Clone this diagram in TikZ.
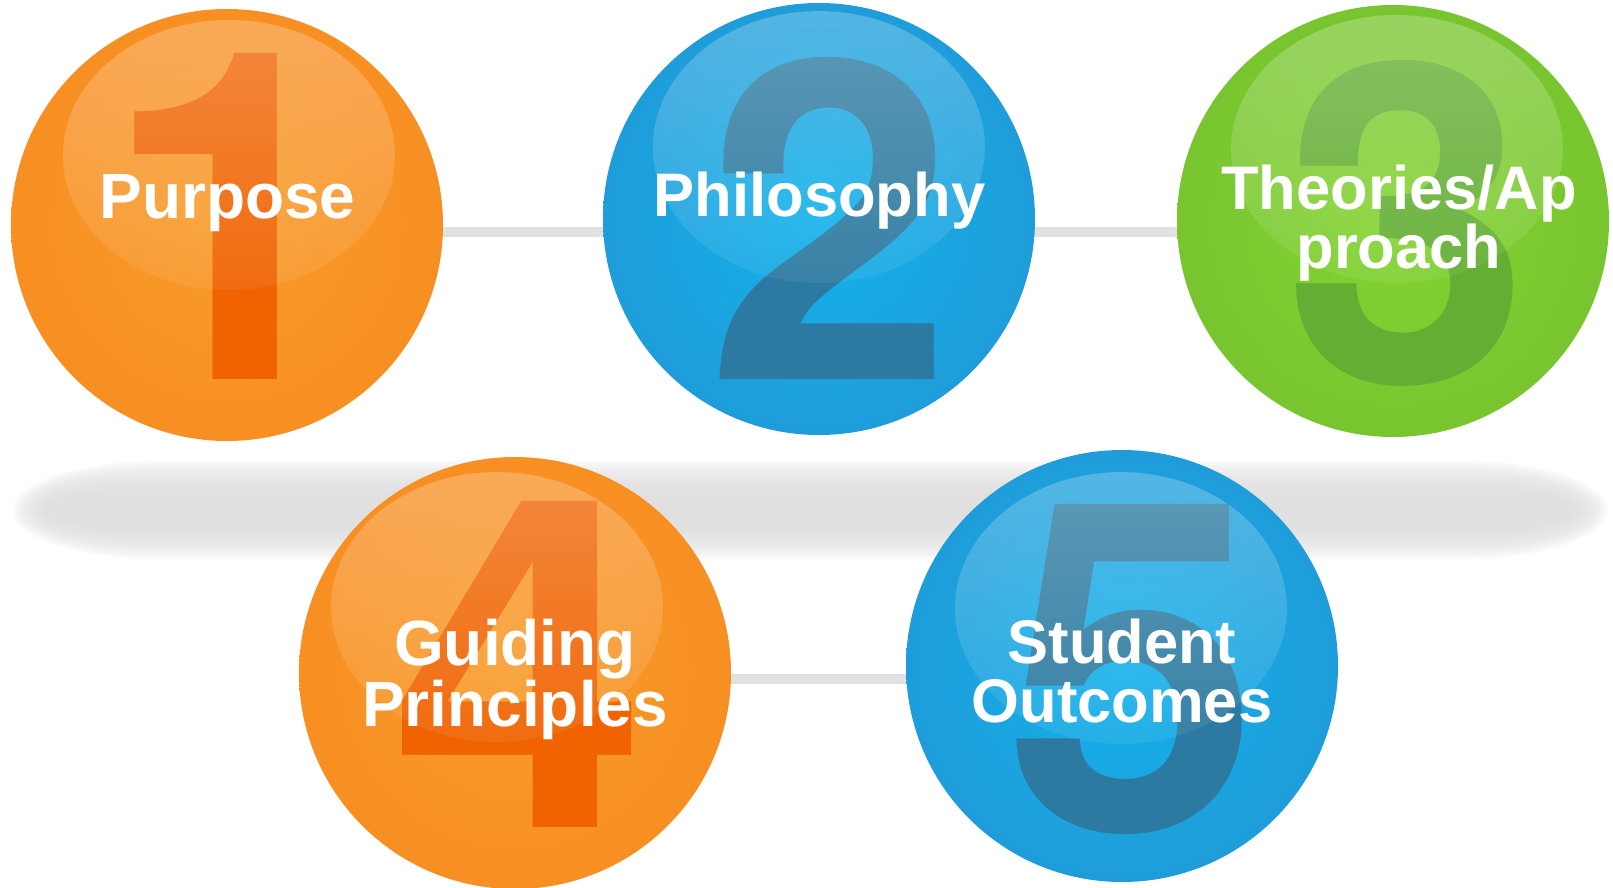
\documentclass[tikz,border=0pt]{standalone}
\usepackage{fontspec}
\setmainfont{Liberation Sans}
\newfontfamily\digitfont{TeX Gyre Heros}
\usetikzlibrary{fadings,backgrounds}
\definecolor{orgIn}{HTML}{F89C2C}
\definecolor{orgOut}{HTML}{F7831A}
\definecolor{bluIn}{HTML}{13B2EB}
\definecolor{bluOut}{HTML}{2690CF}
\definecolor{grnIn}{HTML}{84D433}
\definecolor{grnOut}{HTML}{6AB42A}
\definecolor{orgNum}{HTML}{F06300}
\definecolor{bluNum}{HTML}{2C7AA1}
\definecolor{grnNum}{HTML}{63AF33}
\definecolor{lineGray}{HTML}{E1E1E1}
\definecolor{shadowGray}{HTML}{DCDCDC}
\pgfdeclareradialshading{orangeball}{\pgfpoint{0bp}{0bp}}{color(0bp)=(orgIn); color(24bp)=(orgIn!50!orgOut); color(40bp)=(orgOut); color(50bp)=(orgOut)}
\pgfdeclareradialshading{blueball}{\pgfpoint{0bp}{0bp}}{color(0bp)=(bluIn); color(22bp)=(bluIn!45!bluOut); color(40bp)=(bluOut); color(50bp)=(bluOut)}
\pgfdeclareradialshading{greenball}{\pgfpoint{0bp}{0bp}}{color(0bp)=(grnIn); color(24bp)=(grnIn!55!grnOut); color(40bp)=(grnOut); color(50bp)=(grnOut)}
\tikzfading[name=glossfade, top color=transparent!76, bottom color=transparent!94]
\tikzset{
  ball/.style={circle, minimum size=432pt, inner sep=0pt, draw=none, shade},
  numtxt/.style={inner sep=0pt, anchor=base, font=\fontsize{460}{460}\selectfont\digitfont\bfseries},
  lbl/.style={inner sep=0pt, anchor=base, text=white, align=center},
  connector/.style={draw=lineGray, line width=10pt},
  gloss/.style={fill=white, path fading=glossfade},
}
\begin{document}
\begin{tikzpicture}[x=1pt, y=-1pt]
\useasboundingbox (0,0) rectangle (1613,888);
\coordinate (ln1) at (0,232);
\coordinate (ln2) at (0,679);
% circles
\node[ball, shading=orangeball] (c1) at (227,225) {};
\node[ball, shading=blueball]   (c2) at (819,219) {};
\node[ball, shading=greenball]  (c3) at (1393,221) {};
\node[ball, shading=orangeball] (c4) at (515,673) {};
\node[ball, shading=blueball]   (c5) at (1122,666) {};
% big digits
\node[numtxt, text=orgNum] (n1) at (231,379) {1};
\node[numtxt, text=bluNum, font=\fontsize{445}{445}\selectfont\digitfont\bfseries] (n2) at (830,379) {2};
\node[numtxt, text=grnNum, font=\fontsize{445}{445}\selectfont\digitfont\bfseries] (n3) at (1407,382) {3};
\node[numtxt, text=orgNum] (n4) at (519,827) {4};
\node[numtxt, text=bluNum] (n5) at (1132,830) {5};
% gloss highlights
\fill[gloss] (229,155) ellipse[x radius=166, y radius=135];
\fill[gloss] (819,147) ellipse[x radius=166, y radius=136];
\fill[gloss] (1397,149) ellipse[x radius=166, y radius=134];
\fill[gloss] (497,607) ellipse[x radius=166, y radius=135];
\fill[gloss] (1121,608) ellipse[x radius=166, y radius=136];
% labels
\node[lbl, font=\fontsize{64}{64}\selectfont\bfseries] (t1) at (227.5,218) {Purpose};
\node[lbl, font=\fontsize{61.5}{61.5}\selectfont\bfseries] (t2) at (819.5,216) {Philosophy};
\node[lbl, font=\fontsize{61.5}{57}\selectfont\bfseries] (t3) at (1399,268) {Theories/Ap\\proach};
\node[lbl, font=\fontsize{64}{61}\selectfont\bfseries] (t4) at (515,726) {Guiding\\Principles};
\node[lbl, font=\fontsize{61.5}{59}\selectfont\bfseries] (t5) at (1122,722) {Student\\Outcomes};
% background: shadow band and connectors
\begin{scope}[on background layer]
\foreach \k in {0,...,24}{
  \pgfmathsetmacro\hh{50-1.5*\k}
  \pgfmathsetmacro\aa{150-3.5*\k}
  \pgfmathsetmacro\xl{12+1.6*\k+\aa}
  \pgfmathsetmacro\xr{1608-1.6*\k-\aa}
  \pgfmathsetmacro\yt{510-\hh}
  \pgfmathsetmacro\yb{510+\hh}
  \fill[shadowGray, opacity=0.085] (\xl,\yt) -- (\xr,\yt)
     arc[start angle=-90, end angle=90, x radius=\aa, y radius=\hh]
     -- (\xl,\yb)
     arc[start angle=90, end angle=270, x radius=\aa, y radius=\hh] -- cycle;
}
\draw[connector] (c1.center |- ln1) -- (c2.center |- ln1) -- (c3.center |- ln1);
\draw[connector] (c4.center |- ln2) -- (c5.center |- ln2);
\end{scope}
\end{tikzpicture}
\end{document}
